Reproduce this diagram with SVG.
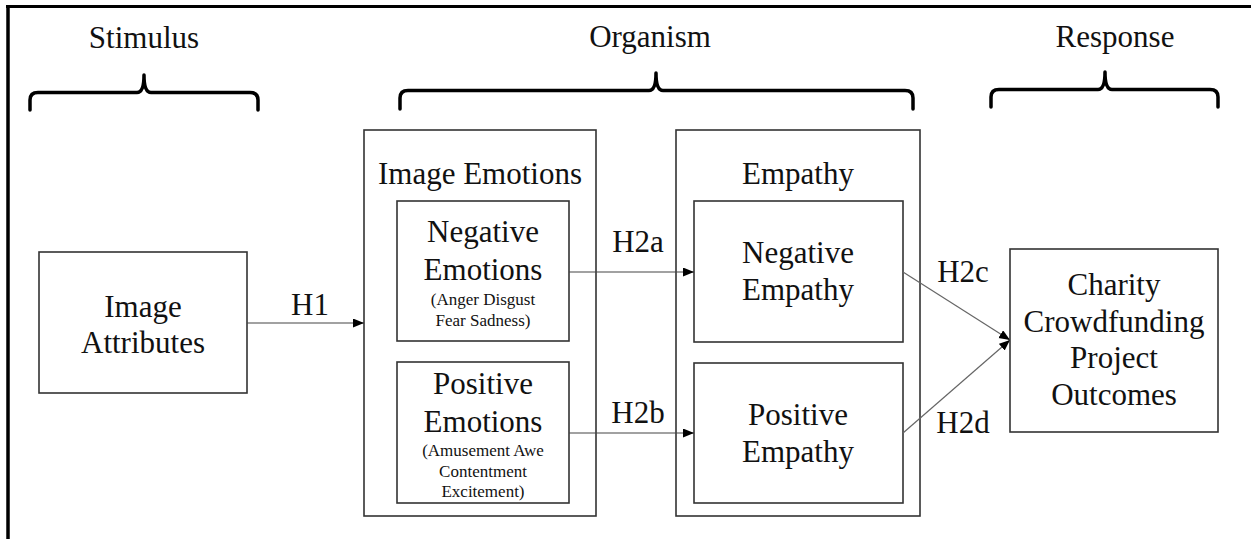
<svg xmlns="http://www.w3.org/2000/svg" width="1251" height="539" viewBox="0 0 1251 539">
<style>
text{font-family:"Liberation Serif","Times New Roman",serif;fill:#111;text-anchor:middle}
.big{font-size:31px}
.small{font-size:17px}
.box{fill:#fff;stroke:#333;stroke-width:1.6}
.brace{fill:none;stroke:#000;stroke-width:3.5;stroke-linecap:round;stroke-linejoin:round}
.conn{stroke:#444;stroke-width:1.2;fill:none}
.conn2{stroke:#666;stroke-width:1.2;fill:none}
</style>
<defs>
<marker id="arr" markerUnits="userSpaceOnUse" markerWidth="12" markerHeight="10" refX="11" refY="4.5" orient="auto">
<path d="M0,0 L11,4.5 L0,9 z" fill="#000"/>
</marker>
</defs>
<rect width="1251" height="539" fill="#fff"/>
<g id="frame">
<line x1="6" y1="6.5" x2="1251" y2="6.5" stroke="#000" stroke-width="3"/>
<line x1="8" y1="5" x2="8" y2="539" stroke="#000" stroke-width="3.5"/>
</g>
<g id="stimulus-header">
<text class="big" x="144" y="48">Stimulus</text>
<path class="brace" d="M30,110 V100 Q30,92.5 38,92.5 H137 Q144,92.5 144,75 Q144,92.5 151,92.5 H250 Q258,92.5 258,100 V110"/>
</g>
<g id="organism-header">
<text class="big" x="650" y="47">Organism</text>
<path class="brace" d="M400,109 V98 Q400,90.5 408,90.5 H649 Q656,90.5 656,73 Q656,90.5 663,90.5 H905 Q913,90.5 913,98 V109"/>
</g>
<g id="response-header">
<text class="big" x="1115" y="47">Response</text>
<path class="brace" d="M991,107 V97 Q991,89.5 999,89.5 H1098 Q1105,89.5 1105,72 Q1105,89.5 1112,89.5 H1210 Q1218,89.5 1218,97 V107"/>
</g>
<g id="image-attributes">
<rect class="box" x="39" y="252" width="208" height="141"/>
<text class="big" x="143" y="317">Image</text>
<text class="big" x="143" y="353">Attributes</text>
</g>
<g id="image-emotions">
<rect class="box" x="364" y="130" width="232" height="386"/>
<text class="big" x="480" y="184">Image Emotions</text>
</g>
<g id="negative-emotions">
<rect class="box" x="397" y="201" width="172" height="140"/>
<text class="big" x="483" y="242">Negative</text>
<text class="big" x="483" y="280">Emotions</text>
<text class="small" x="483" y="305">(Anger Disgust</text>
<text class="small" x="483" y="326">Fear Sadness)</text>
</g>
<g id="positive-emotions">
<rect class="box" x="397" y="362" width="172" height="141"/>
<text class="big" x="483" y="394">Positive</text>
<text class="big" x="483" y="432">Emotions</text>
<text class="small" x="483" y="456">(Amusement Awe</text>
<text class="small" x="483" y="477">Contentment</text>
<text class="small" x="483" y="497">Excitement)</text>
</g>
<g id="empathy">
<rect class="box" x="676" y="130" width="244" height="386"/>
<text class="big" x="798" y="184">Empathy</text>
</g>
<g id="negative-empathy">
<rect class="box" x="694" y="201" width="209" height="141"/>
<text class="big" x="798" y="263">Negative</text>
<text class="big" x="798" y="300">Empathy</text>
</g>
<g id="positive-empathy">
<rect class="box" x="694" y="363" width="209" height="140"/>
<text class="big" x="798" y="425">Positive</text>
<text class="big" x="798" y="462">Empathy</text>
</g>
<g id="outcomes">
<rect class="box" x="1010" y="249" width="208" height="183"/>
<text class="big" x="1114" y="295">Charity</text>
<text class="big" x="1114" y="332">Crowdfunding</text>
<text class="big" x="1114" y="368">Project</text>
<text class="big" x="1114" y="405">Outcomes</text>
</g>
<g id="connectors">
<line class="conn" x1="247" y1="323" x2="364" y2="323" marker-end="url(#arr)"/>
<text class="big" x="310" y="315">H1</text>
<line class="conn" x1="569" y1="272" x2="694" y2="272" marker-end="url(#arr)"/>
<text class="big" x="638" y="252">H2a</text>
<line class="conn" x1="569" y1="433" x2="694" y2="433" marker-end="url(#arr)"/>
<text class="big" x="638" y="423">H2b</text>
<line class="conn2" x1="903" y1="272" x2="1010" y2="340" marker-end="url(#arr)"/>
<text class="big" x="963" y="282">H2c</text>
<line class="conn2" x1="903" y1="433" x2="1010" y2="340" marker-end="url(#arr)"/>
<text class="big" x="963" y="433">H2d</text>
</g>
</svg>
